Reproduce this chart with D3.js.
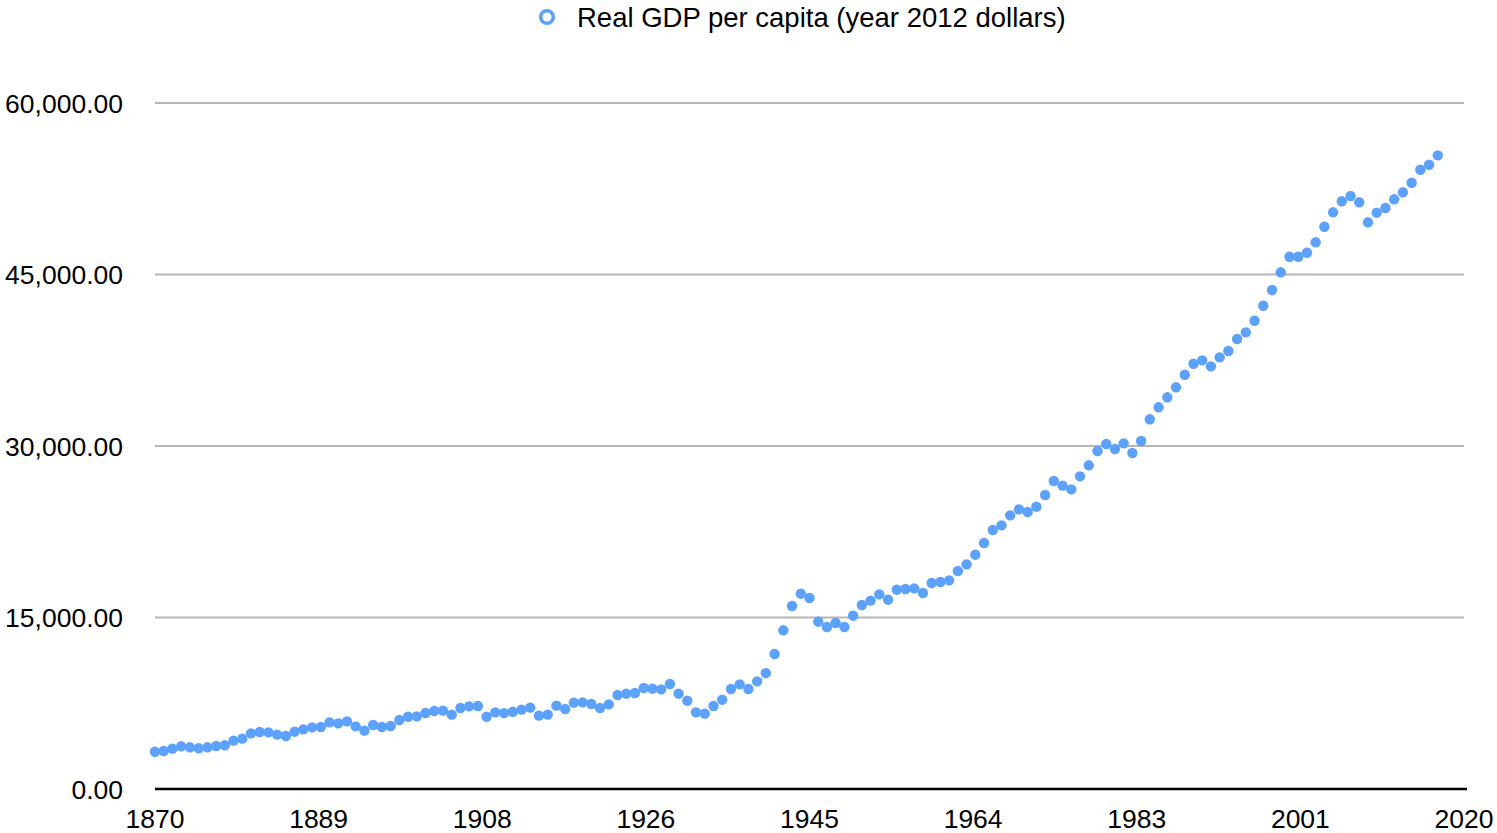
<!doctype html>
<html>
<head>
<meta charset="utf-8">
<style>
  body { margin: 0; background: #fff; }
  text { font-family: "Liberation Sans", Arial, sans-serif; fill: #000; }
</style>
<script src="https://d3js.org/d3.v7.min.js"></script>
</head>
<body>
<svg width="1497" height="833"></svg>
<script>
// years 1870..2017, one point per year
var years = d3.range(1870, 2018);
var gdp = [
  3262, 3323, 3525, 3734, 3647, 3560, 3647, 3760, 3822, 4227,   // 1870s
  4402, 4869, 4985, 4956, 4752, 4635, 5013, 5218, 5393, 5422,   // 1880s
  5830, 5743, 5918, 5481, 5101, 5597, 5422, 5510, 6035, 6323,   // 1890s
  6352, 6647, 6822, 6852, 6501, 7084, 7228, 7258, 6323, 6706,   // 1900s
  6640, 6760, 6939, 7113, 6415, 6501, 7288, 6997, 7550, 7579,   // 1910s
  7434, 7084, 7404, 8221, 8337, 8396, 8833, 8774, 8716, 9183,   // 1920s
  8337, 7725, 6706, 6589, 7258, 7812, 8746, 9154, 8746, 9416,   // 1930s
  10130, 11807, 13880, 16005, 17082, 16705, 14634, 14168, 14518, 14168, // 1940s
  15159, 16093, 16472, 17024, 16559, 17433, 17492, 17550, 17142, 18017, // 1950s
  18104, 18250, 19066, 19649, 20493, 21515, 22652, 23060, 23935, 24460, // 1960s
  24226, 24693, 25713, 26938, 26530, 26210, 27347, 28310, 29561, 30174, // 1970s
  29737, 30232, 29386, 30436, 32334, 33384, 34258, 35133, 36236, 37198, // 1980s
  37490, 36965, 37753, 38308, 39357, 39941, 40958, 42270, 43643, 45191, // 1990s
  46556, 46556, 46906, 47815, 49180, 50439, 51401, 51866, 51313, 49564, // 2000s
  50406, 50814, 51576, 52188, 53028, 54165, 54602, 55423                // 2010s
];
var xTicks = [1870, 1888.75, 1907.5, 1926.25, 1945, 1963.75, 1982.5, 2001.25, 2020];
var yTicks = [0, 15000, 30000, 45000, 60000];
var seriesName = "Real GDP per capita (year 2012 dollars)";

var blue = "#5ca1fb";
var svg = d3.select("svg");
var plotLeft = 155, plotRight = 1464, plotTop = 103, plotBottom = 789;

var x = d3.scaleLinear().domain([1870, 2020]).range([plotLeft, plotRight]);
var y = d3.scaleLinear().domain([0, 60000]).range([plotBottom, plotTop]);

// gridlines
svg.append("g")
  .selectAll("line")
  .data(yTicks.filter(function(d) { return d > 0; }))
  .enter().append("line")
  .attr("x1", plotLeft).attr("x2", plotRight)
  .attr("y1", function(d) { return y(d); })
  .attr("y2", function(d) { return y(d); })
  .attr("stroke", "#b5b5b5")
  .attr("stroke-width", 2);

// y labels
svg.append("g")
  .selectAll("text")
  .data(yTicks)
  .enter().append("text")
  .attr("x", 123)
  .attr("y", function(d) { return y(d); })
  .attr("dy", "0.36em")
  .attr("text-anchor", "end")
  .style("font-size", "26.5px")
  .text(function(d) { return d3.format(",.2f")(d); });

// baseline
svg.append("line")
  .attr("x1", plotLeft).attr("x2", plotRight + 3)
  .attr("y1", plotBottom).attr("y2", plotBottom)
  .attr("stroke", "#000")
  .attr("stroke-width", 2.5);

// x labels
svg.append("g")
  .selectAll("text")
  .data(xTicks)
  .enter().append("text")
  .attr("x", function(d) { return x(d); })
  .attr("y", 828)
  .attr("text-anchor", "middle")
  .style("font-size", "26.5px")
  .text(function(d) { return Math.round(d); });

// points
svg.append("g")
  .selectAll("circle")
  .data(years)
  .enter().append("circle")
  .attr("cx", function(d) { return x(d); })
  .attr("cy", function(d, i) { return y(gdp[i]); })
  .attr("r", 5.2)
  .attr("fill", blue);

// legend
svg.append("circle")
  .attr("cx", 547).attr("cy", 17)
  .attr("r", 6.3)
  .attr("fill", "none")
  .attr("stroke", blue)
  .attr("stroke-width", 3.5);
svg.append("text")
  .attr("x", 577).attr("y", 27)
  .style("font-size", "27.5px")
  .text(seriesName);
</script>
</body>
</html>
